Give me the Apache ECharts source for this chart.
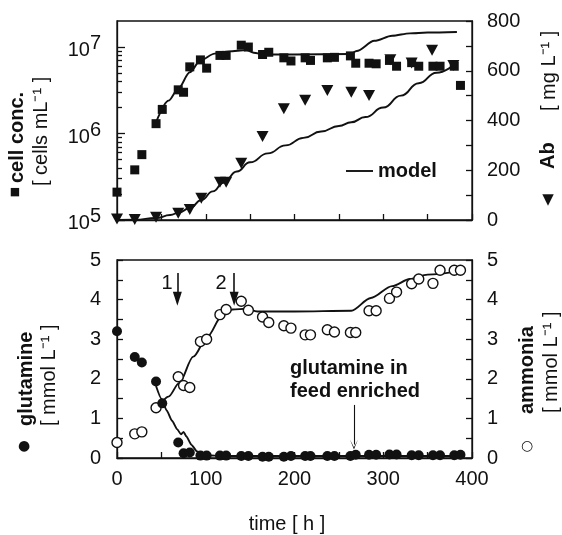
<!DOCTYPE html>
<html>
<head>
<meta charset="utf-8">
<script src="https://cdn.jsdelivr.net/npm/echarts@6/dist/echarts.min.js"></script>
<style>
  html, body { margin: 0; padding: 0; background: #fff; }
  #chart { width: 562px; height: 535px; }
</style>
</head>
<body>
<div id="chart"></div>
<script>
// ---- Upper panel: viable cell concentration (log) and antibody titre ----
const sampleTime = [0, 20, 28, 44, 51, 69, 75, 82, 94, 101, 116, 123, 140, 148, 164, 171, 188, 196,
  212, 218, 237, 245, 263, 269, 284, 292, 307, 315, 332, 340, 356, 364, 380, 387];
const cellConc = [2.1e5, 3.8e5, 5.7e5, 1.3e6, 1.9e6, 3.2e6, 3.0e6, 5.9e6, 7.1e6, 5.7e6, 8.0e6, 8.0e6,
  1.05e7, 1.0e7, 8.2e6, 8.7e6, 7.5e6, 6.9e6, 7.5e6, 7.0e6, 7.5e6, 7.6e6, 7.9e6, 6.5e6, 6.5e6, 6.4e6,
  7.0e6, 6.0e6, 6.6e6, 6.0e6, 6.0e6, 6.0e6, 6.0e6, 3.6e6];

const abTime = [0, 20, 44, 69, 82, 95, 116, 123, 140, 164, 188, 212, 237, 264, 284, 308, 332, 355, 379];
const abConc = [4, 2, 11, 27, 42, 87, 152, 152, 228, 336, 447, 481, 521, 514, 501, 644, 631, 682, 621];

const cellModelTime = [44, 58, 69, 82, 94, 110, 126, 146, 154, 166, 200, 263, 270, 290, 310, 330, 350, 383];
const cellModel = [1.35e6, 2.4e6, 3.3e6, 5.1e6, 7.0e6, 8.4e6, 8.9e6, 9.2e6, 8.6e6, 8.2e6, 8.2e6, 8.3e6,
  9.0e6, 1.18e7, 1.35e7, 1.44e7, 1.47e7, 1.49e7];

const abModelTime = [0, 20, 44, 60, 70, 82, 95, 108, 120, 135, 150, 170, 190, 210, 230, 250, 264, 280,
  300, 320, 340, 360, 380];
const abModel = [0, 1, 8, 20, 30, 48, 80, 115, 150, 195, 232, 268, 300, 330, 356, 378, 393, 414,
  452, 500, 550, 592, 625];

// ---- Lower panel: glutamine and ammonia ----
const glnTime = sampleTime;
const glutamine = [3.20, 2.55, 2.41, 1.93, 1.38, 0.39, 0.12, 0.14, 0.06, 0.06, 0.06, 0.06, 0.05, 0.05,
  0.03, 0.03, 0.03, 0.05, 0.05, 0.05, 0.05, 0.05, 0.05, 0.08, 0.08, 0.08, 0.09, 0.09, 0.07, 0.07,
  0.07, 0.07, 0.07, 0.08];

const nh4Time = [0, 20, 28, 44, 69, 75, 82, 94, 101, 116, 123, 140, 148, 164, 171, 188, 196, 212, 218,
  237, 245, 263, 269, 284, 292, 307, 315, 332, 340, 356, 364, 380, 387];
const ammonia = [0.39, 0.61, 0.66, 1.27, 2.05, 1.83, 1.78, 2.94, 3.00, 3.62, 3.75, 3.96, 3.73, 3.56,
  3.42, 3.34, 3.28, 3.11, 3.11, 3.24, 3.18, 3.17, 3.17, 3.72, 3.72, 4.03, 4.19, 4.40, 4.52, 4.41,
  4.74, 4.74, 4.74];

const glnModelTime = [44, 50, 56, 62, 68, 72, 75, 78, 84, 90, 95, 100, 120, 200, 300, 387];
const glnModel = [1.82, 1.50, 1.20, 0.94, 0.72, 0.60, 0.66, 0.55, 0.33, 0.17, 0.10, 0.07, 0.05, 0.05, 0.05, 0.05];

const nh4ModelTime = [44, 46, 58, 70, 86, 102, 118, 130, 146, 158, 200, 264, 286, 310, 330, 350, 386];
const nh4Model = [1.29, 1.34, 1.55, 1.89, 2.56, 3.07, 3.58, 3.75, 3.77, 3.70, 3.70, 3.72, 4.04, 4.34,
  4.52, 4.63, 4.72];

// Feeding events marked with arrows (time in h)
const feedEvents = [{ t: 68, label: '1' }, { t: 132, label: '2' }];
const enrichTime = 267;

const logMajor = [1e5, 1e6, 1e7];
const logMinor = [2e5, 3e5, 4e5, 5e5, 6e5, 7e5, 8e5, 9e5, 2e6, 3e6, 4e6, 5e6, 6e6, 7e6, 8e6, 9e6];

const pairs = (xs, ys) => xs.map((x, i) => [x, ys[i]]);

const FONT = '"Liberation Sans", Arial, Helvetica, sans-serif';
const SYM_FONT = '"DejaVu Sans", sans-serif';
const INK = '#111';
const FS = 20;

const axisLine = { show: true, lineStyle: { color: INK, width: 1.3 } };
const tick = (len) => ({ show: true, inside: true, length: len, lineStyle: { color: INK, width: 1.3 } });
const noSplit = { show: false };

const chart = echarts.init(document.getElementById('chart'), null, { renderer: 'canvas' });

const triPath = 'path://M5,0 L10,16 L0,16 Z';
const chevronPath = 'path://M0,10 L5,0 L10,10 L5,2.4 Z';

const upperBox = { left: 117, right: 90, top: 21, height: 199 };
const lowerBox = { left: 117, right: 90, top: 260, height: 198 };

const rotText = (x, y, text, bold) => ({
  type: 'text', x, y, rotation: Math.PI / 2,
  style: { text, fontSize: FS, fontWeight: bold ? 'bold' : 'normal', fontFamily: FONT, fill: INK,
    align: 'left', verticalAlign: 'middle' }
});
const plainText = (x, y, text, opts) => ({
  type: 'text', x, y,
  style: Object.assign({ text, fontSize: FS, fontFamily: FONT, fill: INK, align: 'left', verticalAlign: 'middle' }, opts || {})
});

const option = {
  animation: false,
  backgroundColor: '#fff',
  textStyle: { fontFamily: FONT, color: INK },
  grid: [
    Object.assign({ show: true, borderColor: INK, borderWidth: 1.3, backgroundColor: 'transparent' }, upperBox),
    Object.assign({ show: true, borderColor: INK, borderWidth: 1.3, backgroundColor: 'transparent' }, lowerBox),
    // same frame as the upper panel, carries the minor decade ticks only
    Object.assign({ show: false }, upperBox)
  ],
  xAxis: [
    { gridIndex: 0, type: 'value', min: 0, max: 400, interval: 50, axisLine, axisTick: tick(6),
      axisLabel: { show: false }, splitLine: noSplit },
    { gridIndex: 1, type: 'value', min: 0, max: 400, interval: 50, axisLine, axisTick: tick(6),
      axisLabel: { fontSize: FS, color: INK, margin: 11, fontFamily: FONT,
        formatter: v => (v % 100 === 0 ? String(v) : '') },
      splitLine: noSplit },
    { gridIndex: 2, type: 'value', min: 0, max: 400, show: false }
  ],
  yAxis: [
    { gridIndex: 0, type: 'log', logBase: 10, min: 1e5, max: 2e7, position: 'left', axisLine,
      axisTick: Object.assign(tick(8), { customValues: logMajor }),
      axisLabel: { customValues: logMajor, margin: 16, color: INK, fontFamily: FONT,
        formatter: v => '{b|10}{s|' + Math.round(Math.log10(v)) + '}',
        rich: { b: { fontSize: FS, padding: [7, 0, 0, 0], fontFamily: FONT, color: INK },
                s: { fontSize: FS, padding: [0, 0, 7, 0], fontFamily: FONT, color: INK } } },
      splitLine: noSplit },
    { gridIndex: 0, type: 'value', min: 0, max: 800, interval: 100, position: 'right', axisLine,
      axisTick: tick(6),
      axisLabel: { fontSize: FS, color: INK, margin: 15, fontFamily: FONT,
        formatter: v => (v % 200 === 0 ? String(v) : '') },
      splitLine: noSplit },
    { gridIndex: 1, type: 'value', min: 0, max: 5, interval: 0.5, position: 'left', axisLine,
      axisTick: tick(6),
      axisLabel: { fontSize: FS, color: INK, margin: 16, fontFamily: FONT,
        formatter: v => (Math.abs(v - Math.round(v)) < 1e-9 ? String(Math.round(v)) : '') },
      splitLine: noSplit },
    { gridIndex: 1, type: 'value', min: 0, max: 5, interval: 0.5, position: 'right', axisLine,
      axisTick: tick(6),
      axisLabel: { fontSize: FS, color: INK, margin: 15, fontFamily: FONT,
        formatter: v => (Math.abs(v - Math.round(v)) < 1e-9 ? String(Math.round(v)) : '') },
      splitLine: noSplit },
    // minor decade ticks of the log axis
    { gridIndex: 2, type: 'log', logBase: 10, min: 1e5, max: 2e7, position: 'left',
      axisLine: { show: false },
      axisTick: Object.assign(tick(5), { customValues: logMinor }),
      axisLabel: { show: false }, splitLine: noSplit }
  ],
  series: [
    { name: 'cell model', type: 'line', xAxisIndex: 0, yAxisIndex: 0, data: pairs(cellModelTime, cellModel),
      showSymbol: false, smooth: 0.3, smoothMonotone: 'x', lineStyle: { color: INK, width: 1.9 }, z: 2 },
    { name: 'Ab model', type: 'line', xAxisIndex: 0, yAxisIndex: 1, data: pairs(abModelTime, abModel),
      showSymbol: false, smooth: 0.5, smoothMonotone: 'x', lineStyle: { color: INK, width: 1.9 }, z: 2 },
    { name: 'cells', type: 'scatter', xAxisIndex: 0, yAxisIndex: 0, data: pairs(sampleTime, cellConc),
      symbol: 'rect', symbolSize: 9, itemStyle: { color: INK, opacity: 1 }, z: 3 },
    { name: 'Ab', type: 'scatter', xAxisIndex: 0, yAxisIndex: 1, data: pairs(abTime, abConc),
      symbol: 'triangle', symbolRotate: 180, symbolSize: [12, 11], itemStyle: { color: INK, opacity: 1 }, z: 3 },

    { name: 'ammonia model', type: 'line', xAxisIndex: 1, yAxisIndex: 3, data: pairs(nh4ModelTime, nh4Model),
      showSymbol: false, smooth: 0.3, smoothMonotone: 'x', lineStyle: { color: INK, width: 1.9 }, z: 2 },
    { name: 'glutamine model', type: 'line', xAxisIndex: 1, yAxisIndex: 2, data: pairs(glnModelTime, glnModel),
      showSymbol: false, smooth: 0.2, smoothMonotone: 'x', lineStyle: { color: INK, width: 1.9 }, z: 2,
      markLine: {
        silent: true, animation: false, label: { show: false },
        data: [
          ...feedEvents.map(e => [
            { coord: [e.t, 4.67], symbol: 'none', lineStyle: { color: INK, width: 1.6, type: 'solid' } },
            { coord: [e.t, 4.02], symbol: triPath, symbolSize: [9, 14] }
          ]),
          [
            { coord: [enrichTime, 1.34], symbol: 'none', lineStyle: { color: INK, width: 1.1, type: 'solid' } },
            { coord: [enrichTime, 0.34], symbol: chevronPath, symbolSize: [8, 10] }
          ]
        ],
        lineStyle: { color: INK, type: 'solid', opacity: 1 },
        itemStyle: { color: INK, opacity: 1 }
      } },
    { name: 'ammonia', type: 'scatter', xAxisIndex: 1, yAxisIndex: 3, data: pairs(nh4Time, ammonia),
      symbol: 'circle', symbolSize: 10, itemStyle: { color: '#fff', borderColor: INK, borderWidth: 1.4, opacity: 1 }, z: 3 },
    { name: 'glutamine', type: 'scatter', xAxisIndex: 1, yAxisIndex: 2, data: pairs(glnTime, glutamine),
      symbol: 'circle', symbolSize: 10, itemStyle: { color: INK, opacity: 1 }, z: 4 }
  ],
  graphic: [
    // upper-left axis title
    plainText(15, 192, '■', { fontSize: 11, fontFamily: SYM_FONT, align: 'center' }),
    rotText(17, 183, 'cell conc.', true),
    rotText(41, 186, '[ cells mL⁻¹ ]', false),
    // upper-right axis title
    plainText(548, 200, '▼', { fontSize: 15, fontFamily: SYM_FONT, align: 'center' }),
    rotText(548, 169, 'Ab', true),
    rotText(549, 111, '[ mg L⁻¹ ]', false),
    // lower-left axis title
    plainText(24, 446, '●', { fontSize: 14, fontFamily: SYM_FONT, align: 'center' }),
    rotText(26, 426, 'glutamine', true),
    rotText(49, 426, '[ mmol L⁻¹ ]', false),
    // lower-right axis title
    plainText(527, 446, '○', { fontSize: 14, fontFamily: SYM_FONT, align: 'center' }),
    rotText(527, 414, 'ammonia', true),
    rotText(551, 413, '[ mmol L⁻¹ ]', false),
    // x axis title
    plainText(287, 524, 'time [ h ]', { align: 'center' }),
    // model key
    { type: 'line', shape: { x1: 346, y1: 171, x2: 373, y2: 171 }, style: { stroke: INK, lineWidth: 1.9 } },
    plainText(378, 171, 'model', { fontWeight: 'bold' }),
    // feed annotations
    plainText(167, 283, feedEvents[0].label, { align: 'center' }),
    plainText(221, 283, feedEvents[1].label, { align: 'center' }),
    plainText(290, 368, 'glutamine in', { fontWeight: 'bold' }),
    plainText(290, 391, 'feed enriched', { fontWeight: 'bold' })
  ]
};

chart.setOption(option);
</script>
</body>
</html>
